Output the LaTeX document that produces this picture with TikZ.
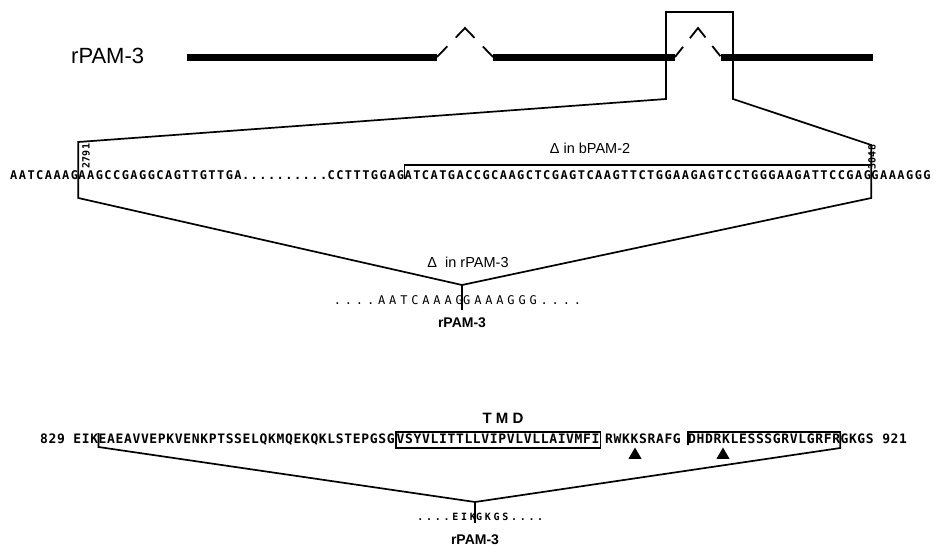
\documentclass[tikz,border=0pt]{standalone}
\usepackage{fontspec}
\setmainfont{Liberation Sans}
\newfontfamily\dnafont{DejaVu Sans Mono}[LetterSpace=12]
\newfontfamily\protfont{DejaVu Sans Mono}[LetterSpace=5]
\newfontfamily\joinfont{DejaVu Sans Mono}[LetterSpace=32]
\newfontfamily\smjoinfont{DejaVu Sans Mono}[LetterSpace=27]
\newfontfamily\numfont{DejaVu Sans Mono}
\usetikzlibrary{shapes.geometric}

\begin{document}
\begin{tikzpicture}[x=1pt,y=-1pt,
 exon/.style={line width=7pt},
 intron/.style={line width=1.8pt,dash pattern=on 15pt off 12pt on 27pt off 12pt on 15pt off 60pt},
 frame/.style={line width=1.7pt,line join=miter},
 dna/.style={inner sep=0pt,anchor=base west,font=\dnafont\bfseries\fontsize{12}{14}\selectfont},
 prot/.style={inner sep=0pt,anchor=base west,font=\protfont\bfseries\fontsize{13}{15}\selectfont},
 tmdbox/.style={draw,line width=1.7pt,inner xsep=1pt,inner ysep=1pt,text height=10pt,text depth=4pt},
 joinseq/.style={inner sep=0pt,font=\joinfont\fontsize{12}{14}\selectfont},
 smjoinseq/.style={inner sep=0pt,font=\smjoinfont\bfseries\fontsize{10}{12}\selectfont},
 lab/.style={inner sep=0pt,font=\fontsize{14.5}{16}\selectfont},
 num/.style={inner sep=0pt,rotate=90,font=\numfont\bfseries\fontsize{10}{11}\selectfont},
 site/.style={regular polygon,regular polygon sides=3,fill=black,inner sep=0pt,minimum size=15pt}]
\useasboundingbox (0,0) rectangle (951,546);

% gene map
\node[inner sep=0pt,anchor=west,font=\fontsize{22}{26}\selectfont] (gene) at (71,56) {rPAM-3};
\draw[exon] (187,57) -- (437,57);
\draw[exon] (493,57) -- (675,57);
\draw[exon] (721,57) -- (873,57);
\draw[intron] (437,57) -- (465,28) -- (493,57);
\draw[intron,dash pattern=on 13pt off 11pt on 25pt off 11pt on 13pt off 60pt] (675,57) -- (698,28) -- (721,57);
\coordinate (boxbl) at (666,99);
\coordinate (boxtl) at (666,12);
\coordinate (boxtr) at (733,12);
\coordinate (boxbr) at (733,99);

% nucleotide sequence
\node[dna] (d1) at (10,179) {AATCAAAG};
\node[dna] (d2) at (d1.base east) {AAGCCGAGGCAGTTGTTGA};
\node[dna] (d3) at (d2.base east) {..........};
\node[dna] (d4) at (d3.base east) {CCTTTGGAG};
\node[dna] (d5) at (d4.base east) {ATCATGACCGCAAGCTCGAGTCAAGTTCTGGAAGAGTCCTGGGAAGATTCCGAG};
\node[dna] (d6) at (d5.base east) {GAAAGGG};
\node[num] (n1) at (86,156) {2791};
\node[num] (n2) at (872,157) {3048};

\coordinate (vdna) at (462,285);
\draw[frame] (d1.base east |- 0,198) -- (d1.base east |- 0,142) -- (boxbl) -- (boxtl)
 -- (boxtr) -- (boxbr) -- (d5.base east |- 0,145) -- (d5.base east |- 0,198) -- (vdna) -- cycle;
\node[lab] (bdel) at (590,148) {Δ in bPAM-2};
\draw[frame] (d4.base east) -- (d4.base east |- 0,165) -- (d5.base east |- 0,165);
\node[lab] (rdel) at (468,262) {Δ\ \ in rPAM-3};

\node[joinseq,anchor=base east] (j1) at (463,304) {....AATCAAAG};
\node[joinseq,anchor=base west] (j2) at (j1.base east) {GAAAGGG....};
\coordinate (vdnaend) at (462,310);
\draw[frame] (vdna) -- (vdnaend);
\node[lab,font=\bfseries\fontsize{14}{16}\selectfont] (rpam1) at (462,323) {rPAM-3};

% protein sequence
\node[lab,font=\bfseries\fontsize{15}{17}\selectfont] (tmd) at (503,418) {T M D};
\node[prot] (p0) at (40,443) {829 EIK};
\node[prot] (p1) at (p0.base east) {EAEAVVEPKVENKPTSSELQKMQEKQKLSTEPGSG};
\node[prot,tmdbox] (p2) at (p1.base east) {VSYVLITTLLVIPVLVLLAIVMFI};
\node[prot,anchor=base] (p3) at (643,443) {RWKKSRAFG};
\node[prot] (p4) at (688,443) {DHDRKLESSSGRVLGRFR};
\node[prot] (p5) at (p4.base east) {GKGS 921};
\node[site] (s1) at (635,455) {};
\node[site] (s2) at (723,455) {};

\coordinate (vpro) at (475,502);
\draw[frame] (p0.base east |- 0,433) -- (p0.base east |- 0,447) -- (vpro) -- (p4.base east |- 0,448)
 -- (p4.base east |- 0,432) -- (p4.base west |- 0,432) -- (p4.base west |- 0,445);
\node[smjoinseq,anchor=base east] (k1) at (476,520) {....EIK};
\node[smjoinseq,anchor=base west] (k2) at (k1.base east) {GKGS....};
\coordinate (vproend) at (475,523);
\draw[frame] (vpro) -- (vproend);
\node[lab,font=\bfseries\fontsize{14}{16}\selectfont] (rpam2) at (475,540) {rPAM-3};
\end{tikzpicture}
\end{document}
